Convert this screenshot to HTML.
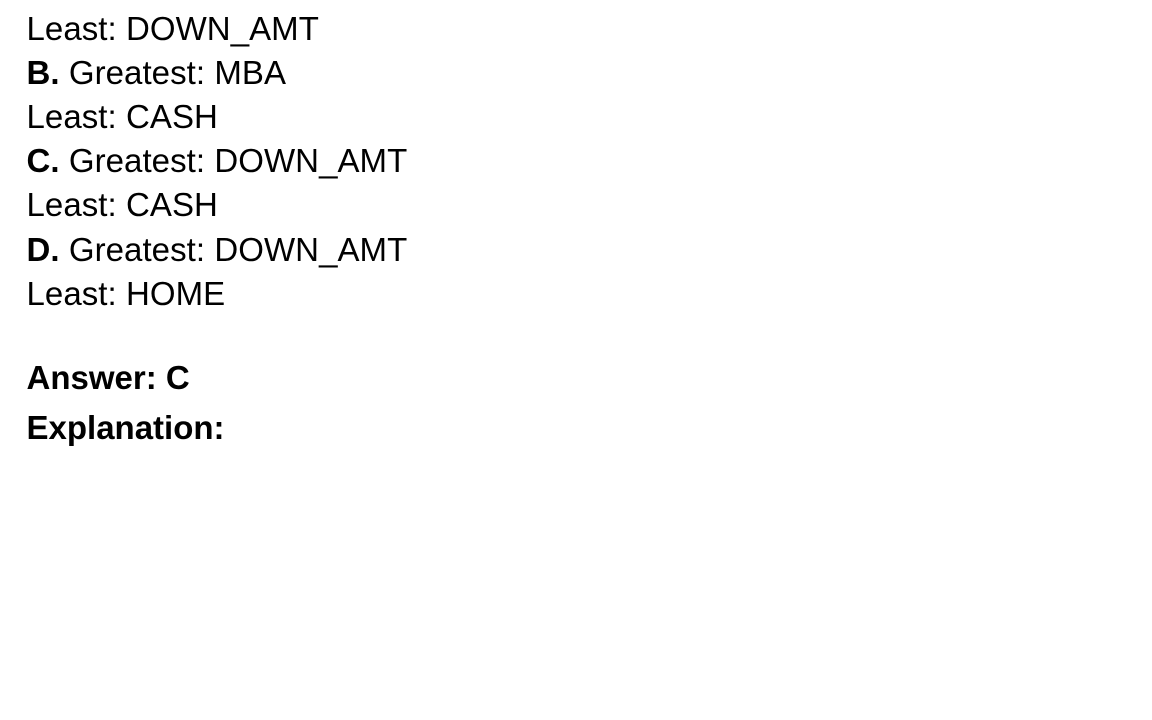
<!DOCTYPE html>
<html>
<head>
<meta charset="utf-8">
<style>
html,body{margin:0;padding:0;background:#fff;width:1152px;height:720px;overflow:hidden}
body{position:relative;font-family:"Liberation Sans",sans-serif;color:#000}
div{position:absolute;left:26.5px;white-space:nowrap;font-size:33px;line-height:44px;letter-spacing:.06px}
.a{font-weight:bold;font-size:33px;letter-spacing:0}
</style>
</head>
<body>
<div style="top:7px">Least: DOWN_AMT</div>
<div style="top:51px"><b>B.</b> Greatest: MBA</div>
<div style="top:95px">Least: CASH</div>
<div style="top:139px"><b>C.</b> Greatest: DOWN_AMT</div>
<div style="top:183px">Least: CASH</div>
<div style="top:228px"><b>D.</b> Greatest: DOWN_AMT</div>
<div style="top:272px">Least: HOME</div>
<div class="a" style="top:356px">Answer: C</div>
<div class="a" style="top:406px">Explanation:</div>
</body>
</html>
